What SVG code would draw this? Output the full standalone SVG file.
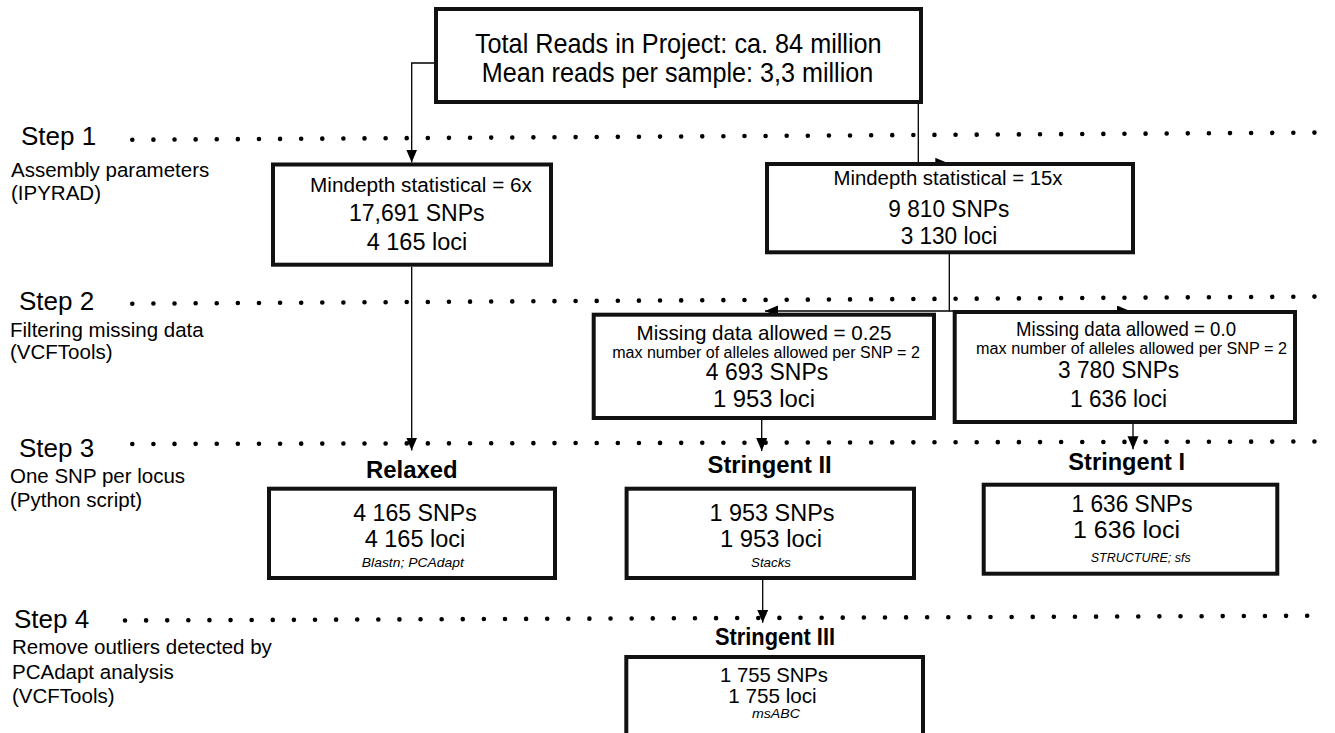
<svg xmlns="http://www.w3.org/2000/svg" width="1335" height="733" viewBox="0 0 1335 733" font-family="'Liberation Sans', Arial, Helvetica, sans-serif">
<defs>
<marker id="arr" markerUnits="userSpaceOnUse" markerWidth="14" markerHeight="12" refX="13" refY="5.5" orient="auto">
<path d="M0,0 L13,5.5 L0,11 z" fill="#000"/>
</marker>
<style>
text{font-family:'Liberation Sans',Arial,Helvetica,sans-serif;fill:#000}
.box{fill:#fff;stroke:#111;stroke-width:4}
.c{text-anchor:middle}
.st{font-size:26px}
.ds{font-size:20.5px}
.b{font-weight:bold}
.i{font-style:italic}
.conn{fill:none;stroke:#000;stroke-width:1.3;marker-end:url(#arr)}
.dots{stroke:#000;stroke-width:4.6;stroke-linecap:round;stroke-dasharray:0 21.11;fill:none}
</style>
</defs>
<rect width="1335" height="733" fill="#fff"/>

<g id="step-lines">
<line class="dots" x1="132.3" y1="139.8" x2="1315" y2="132.6"/>
<line class="dots" x1="132.3" y1="303.7" x2="1315" y2="296.6"/>
<line class="dots" x1="132.3" y1="444" x2="1315" y2="441.5"/>
<line class="dots" x1="125" y1="620.5" x2="1328" y2="615.7"/>
</g>

<g id="step-labels">
<text class="st" x="21" y="145">Step 1</text>
<text class="ds" x="11" y="176.7">Assembly parameters</text>
<text class="ds" x="11" y="200">(IPYRAD)</text>
<text class="st" x="19" y="310">Step 2</text>
<text class="ds" x="10" y="337.3">Filtering missing data</text>
<text class="ds" x="10" y="359">(VCFTools)</text>
<text class="st" x="19" y="456.7">Step 3</text>
<text class="ds" x="10" y="482.7">One SNP per locus</text>
<text class="ds" x="10" y="506.7">(Python script)</text>
<text class="st" x="14" y="628.3">Step 4</text>
<text class="ds" x="12" y="654">Remove outliers detected by</text>
<text class="ds" x="12" y="679">PCAdapt analysis</text>
<text class="ds" x="12" y="703.3">(VCFTools)</text>
</g>

<g id="connectors">
<path class="conn" d="M434,63 H411.7 V162.5"/>
<path class="conn" d="M918.3,104 V163.3 H948.3"/>
<path class="conn" d="M949.3,254 V311 H765"/>
<path class="conn" d="M949.3,311 H1130"/>
<path class="conn" d="M411.7,266.7 V450.5"/>
<path class="conn" d="M761.7,420 V451"/>
<path class="conn" d="M1133,424 V449.3"/>
<path class="conn" d="M762.7,580 V622.7"/>
</g>

<g id="node-total">
<rect class="box" x="436" y="9" width="485" height="93"/>
<text class="c" x="678.3" y="53.3" font-size="27.5" textLength="406.7" lengthAdjust="spacingAndGlyphs">Total Reads in Project: ca. 84 million</text>
<text class="c" x="677.5" y="81.7" font-size="27.5" textLength="391.6" lengthAdjust="spacingAndGlyphs">Mean reads per sample: 3,3 million</text>
</g>

<g id="node-md6">
<rect class="box" x="273" y="164.5" width="278" height="100.2"/>
<text class="c" x="421" y="191.7" font-size="20" textLength="222" lengthAdjust="spacingAndGlyphs">Mindepth statistical = 6x</text>
<text class="c" x="416.8" y="221" font-size="23.5" textLength="135.6" lengthAdjust="spacingAndGlyphs">17,691 SNPs</text>
<text class="c" x="417" y="250" font-size="23.5" textLength="100.6" lengthAdjust="spacingAndGlyphs">4 165 loci</text>
</g>

<g id="node-md15">
<rect class="box" x="767" y="164" width="366" height="88.3"/>
<text class="c" x="948" y="185" font-size="20" textLength="229" lengthAdjust="spacingAndGlyphs">Mindepth statistical = 15x</text>
<text class="c" x="948.8" y="216.7" font-size="23.5" textLength="121" lengthAdjust="spacingAndGlyphs">9 810 SNPs</text>
<text class="c" x="949" y="244" font-size="23.5" textLength="96.7" lengthAdjust="spacingAndGlyphs">3 130 loci</text>
</g>

<g id="node-miss025">
<rect class="box" x="593.7" y="314.7" width="340.3" height="103.3"/>
<text class="c" x="764" y="340" font-size="21" textLength="255" lengthAdjust="spacingAndGlyphs">Missing data allowed = 0.25</text>
<text class="c" x="766" y="357.7" font-size="16" textLength="307.7" lengthAdjust="spacingAndGlyphs">max number of alleles allowed per SNP = 2</text>
<text class="c" x="767" y="380" font-size="23.5" textLength="122.3" lengthAdjust="spacingAndGlyphs">4 693 SNPs</text>
<text class="c" x="764" y="406.7" font-size="23.5" textLength="102" lengthAdjust="spacingAndGlyphs">1 953 loci</text>
</g>

<g id="node-miss00">
<rect class="box" x="954.7" y="312" width="340.3" height="110"/>
<text class="c" x="1126" y="336" font-size="21" textLength="220" lengthAdjust="spacingAndGlyphs">Missing data allowed = 0.0</text>
<text class="c" x="1131.6" y="354" font-size="16" textLength="311" lengthAdjust="spacingAndGlyphs">max number of alleles allowed per SNP = 2</text>
<text class="c" x="1118.6" y="378" font-size="23.5" textLength="121" lengthAdjust="spacingAndGlyphs">3 780 SNPs</text>
<text class="c" x="1118.6" y="406.7" font-size="23.5" textLength="97" lengthAdjust="spacingAndGlyphs">1 636 loci</text>
</g>

<g id="node-relaxed">
<text class="c b" x="411.8" y="478.3" font-size="24" textLength="91.5" lengthAdjust="spacingAndGlyphs">Relaxed</text>
<rect class="box" x="269" y="488.7" width="286" height="89.3"/>
<text class="c" x="415" y="520.7" font-size="23.5" textLength="123.5" lengthAdjust="spacingAndGlyphs">4 165 SNPs</text>
<text class="c" x="415" y="546.7" font-size="23.5" textLength="100.6" lengthAdjust="spacingAndGlyphs">4 165 loci</text>
<text class="c i" x="412.8" y="566.7" font-size="13.5" textLength="102" lengthAdjust="spacingAndGlyphs">Blastn; PCAdapt</text>
</g>

<g id="node-stringent2">
<text class="c b" x="769.6" y="473.3" font-size="24" textLength="124" lengthAdjust="spacingAndGlyphs">Stringent II</text>
<rect class="box" x="626.6" y="488.7" width="287.4" height="89.3"/>
<text class="c" x="772" y="520.7" font-size="23.5" textLength="125" lengthAdjust="spacingAndGlyphs">1 953 SNPs</text>
<text class="c" x="771" y="546.7" font-size="23.5" textLength="102" lengthAdjust="spacingAndGlyphs">1 953 loci</text>
<text class="c i" x="771" y="566.7" font-size="13.5" textLength="40" lengthAdjust="spacingAndGlyphs">Stacks</text>
</g>

<g id="node-stringent1">
<text class="c b" x="1126.7" y="470" font-size="24" textLength="116.7" lengthAdjust="spacingAndGlyphs">Stringent I</text>
<rect class="box" x="983.7" y="484.7" width="293.6" height="89"/>
<text class="c" x="1132" y="511.7" font-size="23.5" textLength="121" lengthAdjust="spacingAndGlyphs">1 636 SNPs</text>
<text class="c" x="1126.5" y="538.3" font-size="23.5" textLength="107" lengthAdjust="spacingAndGlyphs">1 636 loci</text>
<text class="c i" x="1140.7" y="561.7" font-size="13" textLength="100" lengthAdjust="spacingAndGlyphs">STRUCTURE; sfs</text>
</g>

<g id="node-stringent3">
<text class="c b" x="775" y="645" font-size="23" textLength="120" lengthAdjust="spacingAndGlyphs">Stringent III</text>
<rect class="box" x="626.3" y="657" width="296.7" height="100"/>
<text class="c" x="774" y="681.7" font-size="21" textLength="108" lengthAdjust="spacingAndGlyphs">1 755 SNPs</text>
<text class="c" x="772.5" y="703.3" font-size="21" textLength="88.4" lengthAdjust="spacingAndGlyphs">1 755 loci</text>
<text class="c i" x="776" y="718.3" font-size="13.5" textLength="48" lengthAdjust="spacingAndGlyphs">msABC</text>
</g>
</svg>
